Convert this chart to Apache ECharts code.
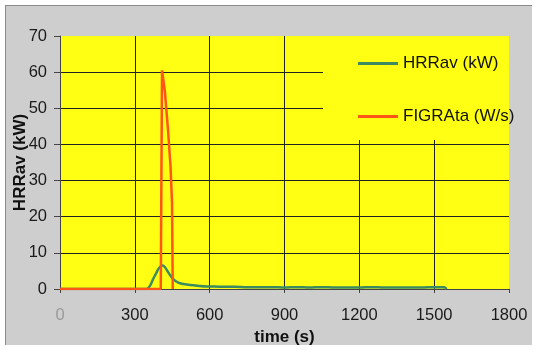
<!DOCTYPE html>
<html>
<head>
<meta charset="utf-8">
<script src="https://cdn.jsdelivr.net/npm/echarts@6/dist/echarts.min.js"></script>
<style>
html,body{margin:0;padding:0;background:#ffffff;}
#wrap{position:relative;width:537px;height:350px;overflow:hidden;}
#panel{position:absolute;left:5px;top:5px;width:527px;height:340px;background:#cdcecd;border-left:1px solid #8a8a8a;border-top:1px solid #8a8a8a;box-sizing:border-box;}
#c{position:absolute;left:0;top:0;width:537px;height:350px;}
</style>
</head>
<body>
<div id="wrap"><div id="panel"></div><div id="c"></div></div>
<script>
// Tick labels
var xTicks = [0, 300, 600, 900, 1200, 1500, 1800];
var yTicks = [0, 10, 20, 30, 40, 50, 60, 70];

// HRRav (kW)
var hrrTime   = [0, 300, 347, 360, 373, 385, 394, 402, 411, 420, 434, 444, 454, 468, 481, 500, 521, 550, 588, 620, 660, 700, 750, 800, 850, 900, 950, 1000, 1050, 1100, 1150, 1200, 1250, 1300, 1350, 1400, 1450, 1500, 1540, 1550];
var hrrValues = [0, 0,   0,   0.8, 2.7, 4.3, 5.5, 6.2, 6.5, 6.1, 4.6, 3.6, 2.7, 2.0, 1.6, 1.3, 1.1, 0.9, 0.7, 0.7, 0.6, 0.6, 0.5, 0.5, 0.5, 0.4, 0.5, 0.4, 0.5, 0.4, 0.4, 0.4, 0.5, 0.4, 0.4, 0.4, 0.4, 0.5, 0.5, 0];

// FIGRAta (W/s)
var figraTime   = [0, 404, 409, 420, 433, 443, 449, 452];
var figraValues = [0, 0,   60.5, 55, 44, 34, 24,  0];

var seriesNames = ['HRRav (kW)', 'FIGRAta (W/s)'];
var seriesColors = ['#3b8a60', '#ff5516'];

function zip(a, b) { return a.map(function (t, i) { return [t, b[i]]; }); }

var font = 'Liberation Sans, Arial, sans-serif';
var yellow = '#ffff14';
var chart = echarts.init(document.getElementById('c'), null, {renderer: 'canvas'});
chart.setOption({
  animation: false,
  backgroundColor: 'transparent',
  textStyle: {fontFamily: font},
  grid: {
    left: 60, right: 28, top: 36, bottom: 61,
    containLabel: false, outerBoundsMode: 'none',
    show: true, backgroundColor: yellow, borderWidth: 0
  },
  graphic: [{
    type: 'rect', z: 1, silent: true,
    shape: {x: 323, y: 36, width: 186, height: 104},
    style: {fill: yellow}
  }],
  legend: {
    orient: 'vertical',
    left: 358, top: 55,
    padding: 0,
    icon: 'rect',
    itemWidth: 40, itemHeight: 3, itemGap: 36,
    textStyle: {fontFamily: font, fontSize: 17, color: '#111'},
    data: seriesNames
  },
  xAxis: {
    type: 'value', min: xTicks[0], max: xTicks[xTicks.length - 1], interval: 300,
    name: 'time (s)', nameLocation: 'middle', nameGap: 40, nameMoveOverlap: false,
    nameTextStyle: {fontFamily: font, fontSize: 17, fontWeight: 'bold', color: '#111'},
    axisLine: {show: true, onZero: false, lineStyle: {color: '#444', width: 1}},
    axisTick: {show: true, length: 4, lineStyle: {color: '#444'}},
    axisLabel: {
      margin: 18, fontSize: 16.5, fontFamily: font,
      formatter: function (v) { return String(v); },
      color: function (v) { return Number(v) === 0 ? '#9a9a9a' : '#1a1a1a'; }
    },
    splitLine: {show: true, lineStyle: {color: ['#222', '#222', '#222', '#222', '#222', '#222', 'rgba(0,0,0,0)'], width: 1}}
  },
  yAxis: {
    type: 'value', min: yTicks[0], max: yTicks[yTicks.length - 1], interval: 10,
    name: 'HRRav (kW)', nameLocation: 'middle', nameGap: 31, nameRotate: 90, nameMoveOverlap: false,
    nameTextStyle: {fontFamily: font, fontSize: 17, fontWeight: 'bold', color: '#111'},
    axisLine: {show: true, lineStyle: {color: '#444', width: 1}},
    axisTick: {show: true, length: 6, lineStyle: {color: '#444'}},
    axisLabel: {margin: 13, fontSize: 16.5, fontFamily: font, color: '#1a1a1a', formatter: function (v) { return String(v); }},
    splitLine: {show: true, lineStyle: {color: ['#222', '#222', '#222', '#222', '#222', '#222', '#222', 'rgba(0,0,0,0)'], width: 1}}
  },
  series: [
    {
      name: seriesNames[0], type: 'line', data: zip(hrrTime, hrrValues),
      showSymbol: false, symbol: 'none', smooth: 0.3,
      lineStyle: {color: seriesColors[0], width: 2.5}, itemStyle: {color: seriesColors[0]}, z: 2
    },
    {
      name: seriesNames[1], type: 'line', data: zip(figraTime, figraValues),
      showSymbol: false, symbol: 'none',
      lineStyle: {color: seriesColors[1], width: 2.5}, itemStyle: {color: seriesColors[1]}, z: 3
    }
  ]
});
</script>
</body>
</html>
